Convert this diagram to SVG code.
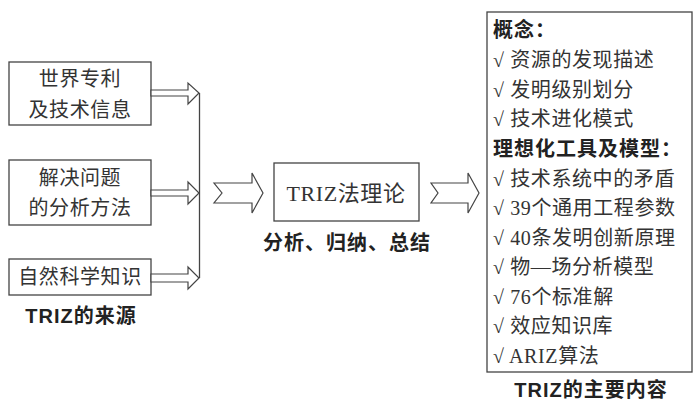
<svg xmlns="http://www.w3.org/2000/svg" width="694" height="402" viewBox="0 0 694 402">
<style>
.box{fill:#fff;stroke:#444;stroke-width:1.3}
.arr{fill:#fff;stroke:#444;stroke-width:1.2;stroke-linejoin:miter}
.t{font-family:"Liberation Serif","Noto Sans CJK SC",serif;font-size:20px;fill:#333;letter-spacing:0.6px}
.b{font-family:"Liberation Sans","Noto Sans CJK SC",sans-serif;font-size:20px;font-weight:bold;fill:#222;letter-spacing:1px}
.c{text-anchor:middle}
.k{font-weight:300}
</style>
<rect width="694" height="402" fill="#fff"/>
<g id="src1"><rect class="box" x="9" y="62" width="142" height="63"/><text class="t c" x="80" y="86">世界专利</text><text class="t c" x="80" y="117">及技术信息</text></g>
<g id="src2"><rect class="box" x="9" y="160" width="142" height="65"/><text class="t c" x="80" y="185">解决问题</text><text class="t c" x="80" y="215">的分析方法</text></g>
<g id="src3"><rect class="box" x="9" y="259" width="142" height="36"/><text class="t c" x="80" y="284">自然科学知识</text></g>
<g id="lbl-src"><text class="b c" x="81" y="323">TRIZ的来源</text></g>
<g id="theory"><rect class="box" x="274" y="163" width="145" height="58"/><text class="t c" x="346" y="201" style="font-size:22px">TRIZ法理论</text></g>
<g id="lbl-theory"><text class="b c" x="347" y="250">分析、归纳、总结</text></g>
<g id="content">
<rect class="box" x="487" y="12" width="205" height="360"/>
<text class="b" x="493" y="37">概念：</text>
<text class="t" x="493" y="67">√ 资源的发现描述</text>
<text class="t" x="493" y="97">√ 发明级别划分</text>
<text class="t" x="493" y="126">√ 技术进化模式</text>
<text class="b" x="493" y="156">理想化工具及模型：</text>
<text class="t" x="493" y="186">√ 技术系统中的矛盾</text>
<text class="t" x="493" y="215">√ 39个通用工程参数</text>
<text class="t" x="493" y="245">√ 40条发明创新原理</text>
<text class="t" x="493" y="274">√ 物—场分析模型</text>
<text class="t" x="493" y="304">√ 76个标准解</text>
<text class="t" x="493" y="333">√ 效应知识库</text>
<text class="t" x="493" y="363">√ ARIZ算法</text>
</g>
<g id="lbl-content"><text class="b c" x="591" y="397">TRIZ的主要内容</text></g>
<g id="connectors">
<line x1="199.5" y1="93" x2="199.5" y2="278" stroke="#444" stroke-width="1.3"/>
<polygon class="arr" points="151,90 188,90 188,83 199,93 188,104 188,96 151,96"/>
<polygon class="arr" points="151,190 188,190 188,182 199,193 188,204 188,196 151,196"/>
<polygon class="arr" points="151,274 188,274 188,267 199,278 188,289 188,282 151,282"/>
<polygon class="arr" points="214,183 252,183 252,173 263,193 252,213 252,203 214,203 222,193"/>
<polygon class="arr" points="431,183 468,183 468,173 479,193 468,213 468,203 431,203 438,193"/>
</g>
</svg>
